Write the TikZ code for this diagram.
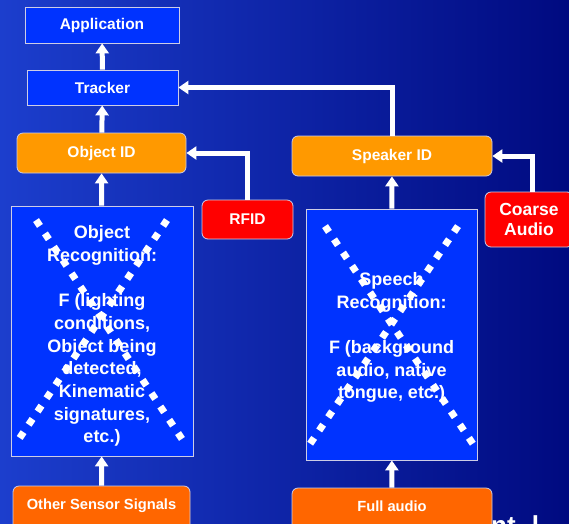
\documentclass[tikz,border=0pt]{standalone}
\usepackage{fontspec}
\setmainfont{Liberation Sans}
\usepackage{tikz}
\usetikzlibrary{positioning, shapes, calc, arrows.meta}
\definecolor{slideblue}{RGB}{28,62,205}
\definecolor{slidenavy}{RGB}{0,10,128}
\definecolor{boxblue}{RGB}{0,51,255}
\definecolor{idorange}{RGB}{255,153,0}
\definecolor{sigorange}{RGB}{255,102,0}
\definecolor{srcred}{RGB}{255,0,0}
\definecolor{edgegray}{RGB}{205,205,230}

\begin{document}
\begin{tikzpicture}[x=1pt, y=-1pt,
  every node/.style={text=white, font=\bfseries},
  bluebox/.style={draw=edgegray, line width=0.8pt, fill=boxblue},
  idbox/.style={draw=edgegray, line width=0.8pt, fill=idorange, rounded corners=6pt},
  sigbox/.style={draw=edgegray, line width=0.8pt, fill=sigorange, rounded corners=6pt},
  srcbox/.style={draw=edgegray, line width=0.8pt, fill=srcred, rounded corners=6pt},
  rectext/.style={align=center, font=\bfseries\fontsize{18}{22.7}\selectfont},
  flow/.style={draw=white, line width=5pt, -{Triangle[width=13pt,length=10pt]}},
  cross/.style={draw=white, line width=7pt, dash pattern=on 7pt off 9pt, shorten <=-3.5pt, shorten >=-3.5pt}]
\useasboundingbox (0,0) rectangle (569,523);
\clip (0,0) rectangle (569,523);
\shade[left color=slideblue, middle color={rgb,255:red,12;green,34;blue,170}, right color=slidenavy] (0,0) rectangle (569,523);

% text behind the slide boxes
\node[anchor=base west, inner sep=0pt, font=\bfseries\fontsize{26}{30}\selectfont] (tail) at (491,534) {nt\hspace{9pt} l};

% left chain
\node[bluebox, minimum width=154pt, minimum height=36pt, font=\bfseries\fontsize{15.5}{18}\selectfont] (app) at (102,25) {Application};
\node[bluebox, minimum width=151pt, minimum height=35pt, font=\bfseries\fontsize{15.5}{18}\selectfont] (track) at (102.5,87.5) {Tracker};
\node[idbox, minimum width=169pt, minimum height=40pt, font=\bfseries\fontsize{15.5}{18}\selectfont] (objid) at (101.5,153) {Object ID};
\node[bluebox, minimum width=182pt, minimum height=250pt] (objrec) at (102,331) {};
\node[rectext] (objrectext) at ([yshift=-5pt]objrec.center)
  {Object\\Recognition:\\[22.7pt]F (lighting\\conditions,\\Object being\\detected,\\Kinematic\\signatures,\\etc.)};
\node[sigbox, minimum width=177pt, minimum height=50pt, text depth=14pt, font=\bfseries\fontsize{14.7}{17}\selectfont] (other) at (101.5,511) {Other Sensor Signals};
\node[srcbox, minimum width=91pt, minimum height=39pt, font=\bfseries\fontsize{15.5}{18}\selectfont] (rfid) at (247.5,219.5) {RFID};

% right chain
\node[idbox, minimum width=200pt, minimum height=40pt, font=\bfseries\fontsize{15.5}{18}\selectfont] (spkid) at (392,156) {Speaker ID};
\node[bluebox, minimum width=171pt, minimum height=251pt] (spchrec) at (391.5,334.5) {};
\node[rectext] (spchrectext) at ([yshift=-3pt]spchrec.center)
  {Speech\\Recognition:\\[22.7pt]F (background\\audio, native\\tongue, etc.)};
\node[sigbox, minimum width=200pt, minimum height=50pt, text depth=14pt, font=\bfseries\fontsize{14.7}{17}\selectfont] (full) at (392,513) {Full audio};
\node[srcbox, minimum width=88pt, minimum height=55pt, align=center, font=\bfseries\fontsize{17.5}{19.5}\selectfont] (coarse) at (529,219.5) {Coarse\\Audio};

% crossed out recognisers
\draw[cross] (38,223) -- (180,436);
\draw[cross] (165,223) -- (21,436);
\draw[cross] (327,229) -- (471,441);
\draw[cross] (456,229) -- (312,441);

% connectors
\draw[flow] (track) -- (app);
\draw[flow] (objid) -- (track);
\draw[flow] (objrec) -- (objid);
\draw[flow] (other) -- (objrec);
\draw[flow] (rfid.north) |- (objid.east);
\draw[flow] (spchrec) -- (spkid);
\draw[flow] (full) -- (spchrec);
\draw[flow] (spkid.north) |- (track.east);
\draw[flow] ([xshift=3pt]coarse.north) |- (spkid.east);
\end{tikzpicture}
\end{document}
